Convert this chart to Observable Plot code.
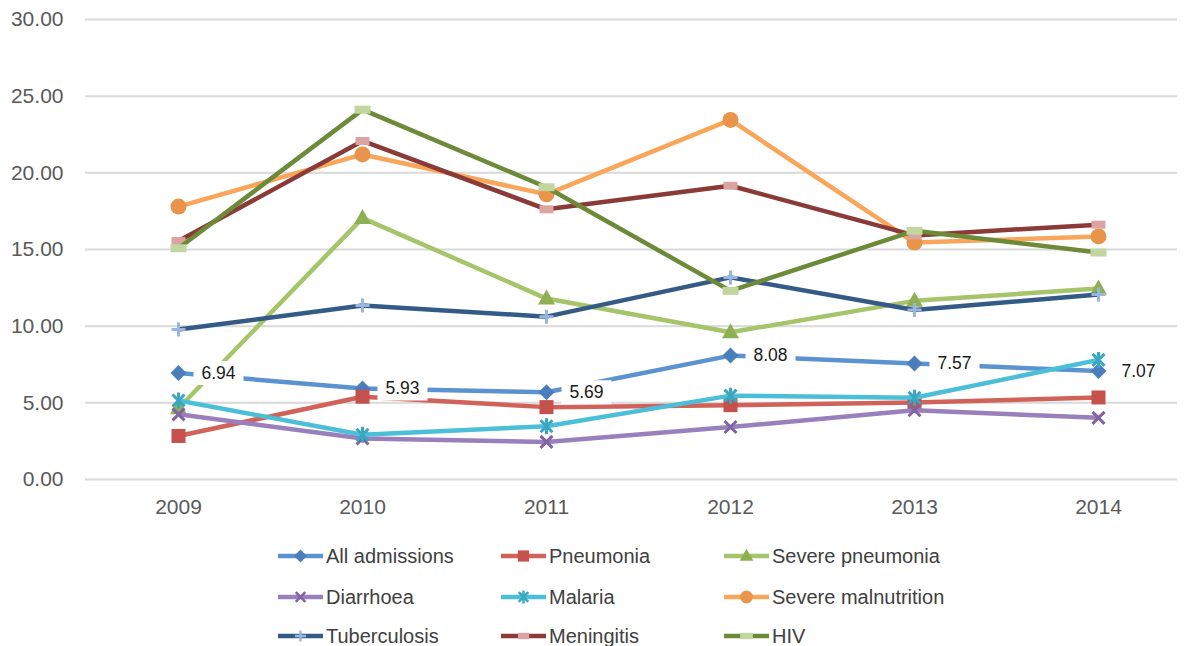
<!DOCTYPE html>
<html>
<head>
<meta charset="utf-8">
<script src="https://cdn.jsdelivr.net/npm/d3@7"></script>
<script src="https://cdn.jsdelivr.net/npm/@observablehq/plot@0.6"></script>
<style>
  body { margin: 0; background: #fff; font-family: "Liberation Sans", Arial, sans-serif; }
  #wrap { position: relative; width: 1187px; height: 646px; overflow: hidden; }
  #legend { position: absolute; left: 0; top: 530px; width: 1187px; height: 116px; }
  .item { position: absolute; display: flex; align-items: center; height: 24px; font-size: 20px; color: #404040; }
  .item svg { margin-right: 3px; }
</style>
</head>
<body>
<div id="wrap"><div id="chart"></div><div id="legend"></div></div>
<script>
const years = [2009, 2010, 2011, 2012, 2013, 2014];
const seriesNames = ["All admissions", "Pneumonia", "Severe pneumonia", "Diarrhoea", "Malaria", "Severe malnutrition", "Tuberculosis", "Meningitis", "HIV"];
const allAdmissions = [6.94, 5.93, 5.69, 8.08, 7.57, 7.07];
const pneumonia = [2.84, 5.4, 4.72, 4.85, 5.02, 5.35];
const severePneumonia = [4.65, 17.05, 11.8, 9.6, 11.65, 12.45];
const diarrhoea = [4.25, 2.67, 2.45, 3.42, 4.52, 4.02];
const malaria = [5.15, 2.92, 3.47, 5.47, 5.33, 7.8];
const severeMalnutrition = [17.8, 21.2, 18.6, 23.45, 15.45, 15.85];
const tuberculosis = [9.78, 11.35, 10.62, 13.18, 11.05, 12.07];
const meningitis = [15.55, 22.08, 17.62, 19.16, 15.92, 16.62];
const hiv = [15.08, 24.12, 19.06, 12.3, 16.22, 14.8];
const labelValues = ["6.94", "5.93", "5.69", "8.08", "7.57", "7.07"];
const yTicks = [0, 5, 10, 15, 20, 25, 30];

const lineColors = ["#5b93d0", "#d0625a", "#a6c46a", "#9a7fbd", "#4cbfd8", "#f9a65a", "#345a86", "#8a3b38", "#6c8a37"];
const markColors = ["#4a7ebb", "#c6504b", "#8fb052", "#8064a2", "#3aa6c0", "#e8944a", "#9ab6de", "#dba3a2", "#c2d7a0"];

const sym = fn => ({draw(ctx) { fn(ctx); }});
const symbols = [
  sym(c => { c.moveTo(0, -8); c.lineTo(8, 0); c.lineTo(0, 8); c.lineTo(-8, 0); c.closePath(); }),
  sym(c => { c.rect(-7, -7, 14, 14); }),
  sym(c => { c.moveTo(0, -9); c.lineTo(8.5, 6); c.lineTo(-8.5, 6); c.closePath(); }),
  sym(c => { c.moveTo(-6, -6); c.lineTo(6, 6); c.moveTo(6, -6); c.lineTo(-6, 6); }),
  sym(c => { c.moveTo(-6, -6); c.lineTo(6, 6); c.moveTo(6, -6); c.lineTo(-6, 6); c.moveTo(0, -8); c.lineTo(0, 8); }),
  sym(c => { c.moveTo(8, 0); c.arc(0, 0, 8, 0, 2 * Math.PI); }),
  sym(c => { c.moveTo(-7, 0); c.lineTo(7, 0); c.moveTo(0, -7); c.lineTo(0, 7); }),
  sym(c => { c.rect(-7, -4, 14, 8); }),
  sym(c => { c.rect(-8, -4, 16, 8); })
];
const strokeSymbol = [false, false, false, true, true, false, true, false, false];
const boxSymbol = sym(c => { c.rect(-25, -12, 50, 24); });

const valueLists = [allAdmissions, pneumonia, severePneumonia, diarrhoea, malaria, severeMalnutrition, tuberculosis, meningitis, hiv];
const series = seriesNames.map((name, i) => ({
  name, i,
  data: years.map((year, j) => ({year, value: valueLists[i][j]}))
}));
const labels = years.map((year, j) => ({year, value: allAdmissions[j], label: labelValues[j]}));

const marks = [
  Plot.ruleY(yTicks, {stroke: "#d9d9d9", strokeWidth: 2}),
  Plot.axisY({ticks: yTicks, tickSize: 0, tickPadding: 22, tickFormat: d3.format(".2f"), fontSize: 21, fill: "#595959", label: null}),
  Plot.axisX({ticks: years, tickSize: 0, tickPadding: 20, tickFormat: d => String(d), fontSize: 21, fill: "#595959", label: null})
];
for (const s of series) {
  marks.push(Plot.line(s.data, {x: "year", y: "value", stroke: lineColors[s.i], strokeWidth: 4.5, strokeLinejoin: "round"}));
  if (strokeSymbol[s.i]) {
    marks.push(Plot.dot(s.data, {x: "year", y: "value", symbol: symbols[s.i], r: 5, fill: "none", stroke: markColors[s.i], strokeWidth: 3}));
  } else {
    marks.push(Plot.dot(s.data, {x: "year", y: "value", symbol: symbols[s.i], r: 5, fill: markColors[s.i], stroke: "none"}));
  }
}
marks.push(Plot.dot(labels, {x: "year", y: "value", dx: 40, symbol: boxSymbol, r: 5, fill: "white", stroke: "none"}));
marks.push(Plot.text(labels, {x: "year", y: "value", dx: 40, text: "label", fontSize: 17.5, fill: "#1a1a1a"}));

const chart = Plot.plot({
  width: 1187,
  height: 530,
  marginLeft: 85,
  marginRight: 10,
  marginTop: 19,
  marginBottom: 51,
  style: {fontFamily: "'Liberation Sans', Arial, sans-serif", background: "white", overflow: "visible"},
  x: {type: "point", domain: years, range: [176, 1100], padding: 0},
  y: {domain: [0, 30], range: [479, 19]},
  marks
});
document.getElementById("chart").appendChild(chart);

// Legend
const legend = document.getElementById("legend");
const colX = [278, 501, 724];
const rowY = [14, 55, 94];
series.forEach(s => {
  const col = s.i % 3, row = Math.floor(s.i / 3);
  const item = document.createElement("div");
  item.className = "item";
  item.style.left = colX[col] + "px";
  item.style.top = rowY[row] + "px";
  const svg = d3.create("svg").attr("width", 45).attr("height", 24);
  svg.append("line").attr("x1", 0).attr("x2", 45).attr("y1", 12).attr("y2", 12)
    .attr("stroke", lineColors[s.i]).attr("stroke-width", 4.5);
  const p = d3.path();
  symbols[s.i].draw(p);
  const path = svg.append("path").attr("d", p.toString()).attr("transform", "translate(22.5,12) scale(0.8)");
  if (strokeSymbol[s.i]) path.attr("fill", "none").attr("stroke", markColors[s.i]).attr("stroke-width", 3);
  else path.attr("fill", markColors[s.i]);
  item.appendChild(svg.node());
  const span = document.createElement("span");
  span.textContent = s.name;
  item.appendChild(span);
  legend.appendChild(item);
});
</script>
</body>
</html>
